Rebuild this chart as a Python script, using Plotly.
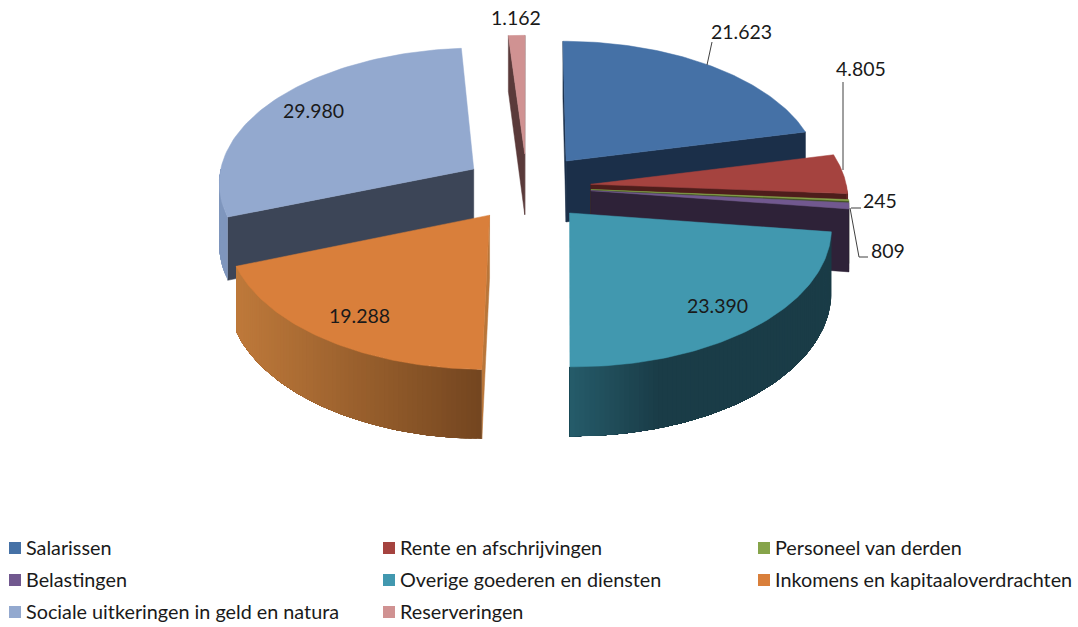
import numpy as np
import plotly.graph_objects as go

categories = ["Salarissen", "Rente en afschrijvingen", "Personeel van derden", "Belastingen",
              "Overige goederen en diensten", "Inkomens en kapitaaloverdrachten",
              "Sociale uitkeringen in geld en natura", "Reserveringen"]
values = [21623, 4805, 245, 809, 23390, 19288, 29980, 1162]
value_labels = ["21.623", "4.805", "245", "809", "23.390", "19.288", "29.980", "1.162"]

top_colors = ["#4571A6", "#A5433F", "#86A44A", "#71588F", "#4198AF", "#D97F3B", "#93A9CF", "#D09292"]
side_colors = ["#1B2F49", "#4E1D1B", "#3F4F22", "#2E2238", "#1A3B47", "#B9763A", "#3C4557", "#5A3A3A"]
rim_from = ["#2F4E74", "#7A302D", "#5F7535", "#4F3E66", "#265C6A", "#BF7A3B", "#7F96BD", "#A06C6C"]
rim_to = ["#1B2F49", "#4E1D1B", "#3F4F22", "#2E2238", "#1A3C47", "#744620", "#7F96BD", "#5A3A3A"]
draw_order = [7, 6, 0, 1, 2, 3, 5, 4]

# projection parameters of the tilted, exploded pie
CX, CY, RX, RY, K, H, EXPLODE = 527, 187, 256, 135, 0.09, 62, 0.25


def project(X, Y, Z=0.0):
    X, Y = np.asarray(X, float), np.asarray(Y, float)
    s = 1 / (1 + K * Y)
    return CX + RX * X * s, CY - RY * Y * s + H * Z * s


def hex2rgb(c):
    return np.array([int(c[i:i + 2], 16) for i in (1, 3, 5)], float)


def mix(a, b, t):
    r = hex2rgb(a) * (1 - t) + hex2rgb(b) * t
    return "rgb(%d,%d,%d)" % tuple(r)


fig = go.Figure()


def poly(xs, ys, color, width=0.5):
    fig.add_trace(go.Scatter(x=list(xs) + [xs[0]], y=list(ys) + [ys[0]], mode="lines", fill="toself",
                             fillcolor=color, line=dict(color=color, width=width),
                             hoverinfo="skip", showlegend=False))


total = sum(values)
ends = np.cumsum(values) / total * 2 * np.pi
starts = np.concatenate([[0], ends[:-1]])

for i in draw_order:
    a, b = starts[i], ends[i]
    mid = (a + b) / 2
    ox, oy = EXPLODE * np.sin(mid), EXPLODE * np.cos(mid)
    rim = lambda t: (ox + np.sin(t), oy + np.cos(t))

    # radial walls facing the viewer
    for ang, normal in ((a, a - np.pi / 2), (b, b + np.pi / 2)):
        if np.cos(normal) <= 1e-6:
            rx_, ry_ = rim(ang)
            X = [ox, rx_, rx_, ox]
            Y = [oy, ry_, ry_, oy]
            Z = [0, 0, 1, 1]
            px, py = zip(*[project(x, y, z) for x, y, z in zip(X, Y, Z)])
            poly([float(v) for v in px], [float(v) for v in py], side_colors[i])

    # outer wall with a horizontal gradient on its front-facing part;
    # every band runs on to the end of the wall so that no seams show
    lo, hi = max(a, np.pi / 2), min(b, 3 * np.pi / 2)
    if hi > lo:
        n = max(2, int((hi - lo) / np.radians(1.0)))
        grid = np.linspace(lo, hi, n + 1)
        xl, _ = project(*rim(lo), 0)
        xh, _ = project(*rim(hi), 0)
        for j in range(n):
            t = (grid[j] + grid[j + 1]) / 2
            xm, _ = project(*rim(t), 0)
            if i == 4:  # teal: light only near the front edge, then flat
                frac = (xm - xh) / 90
            elif i == 5:  # orange: light at the left, dark at the front
                frac = (xm - xh) / (xl - xh)
            else:
                frac = (xm - xl) / (xh - xl) if xh != xl else 0
            seg = grid[j:]
            x0, y0 = rim(seg)
            px1, py1 = project(x0, y0, 0)
            px2, py2 = project(x0, y0, 1)
            poly(list(px1) + list(px2[::-1]), list(py1) + list(py2[::-1]),
                 mix(rim_from[i], rim_to[i], float(np.clip(frac, 0, 1))), width=0)

    # top face
    arc = np.linspace(a, b, 80)
    x0, y0 = rim(arc)
    tx, ty = project(np.r_[ox, x0], np.r_[oy, y0], 0)
    poly(list(tx), list(ty), top_colors[i])

FONT = "Lato, Carlito, Calibri, sans-serif"
INK = "#1a1a1a"
annotations = []

# data labels
label_pos = [(741, 31), (861, 68), (880, 200), (888, 250), (717, 305), (359, 315), (313, 110), (516, 17)]
for txt, (x, y) in zip(value_labels, label_pos):
    annotations.append(dict(x=x, y=y, text=txt, showarrow=False, xanchor="center", yanchor="middle",
                            font=dict(family=FONT, size=19.5, color=INK)))

# leader lines
leaders = [([712, 707], [42, 65]), ([843, 843], [82, 170]), ([861, 851], [208, 208]),
           ([868, 859, 850], [257, 257, 208])]
for lx, ly in leaders:
    fig.add_trace(go.Scatter(x=lx, y=ly, mode="lines", line=dict(color="#404040", width=1),
                             hoverinfo="skip", showlegend=False))

# legend
legend_x = [15, 389, 764]
legend_y = [548, 580, 612]
for i, name in enumerate(categories):
    col, row = i % 3, i // 3
    fig.add_trace(go.Scatter(x=[legend_x[col]], y=[legend_y[row]], mode="markers",
                             marker=dict(symbol="square", size=12, color=top_colors[i]),
                             hoverinfo="skip", showlegend=False))
    annotations.append(dict(x=legend_x[col] + 9, y=legend_y[row] - 1, text=name, showarrow=False,
                            xanchor="left", yanchor="middle",
                            font=dict(family=FONT, size=19.8, color=INK)))

fig.update_layout(
    width=1078, height=627, autosize=False,
    margin=dict(l=0, r=0, t=0, b=0),
    paper_bgcolor="white", plot_bgcolor="white",
    xaxis=dict(range=[0, 1078], visible=False, fixedrange=True),
    yaxis=dict(range=[627, 0], visible=False, fixedrange=True),
    annotations=annotations,
    showlegend=False,
)
# remove the page's default 8 px body margin so the figure fills the window
fig.write_html("out.html", config={"displayModeBar": False},
               post_script="document.body.style.margin='0';document.documentElement.style.overflow='hidden';")
